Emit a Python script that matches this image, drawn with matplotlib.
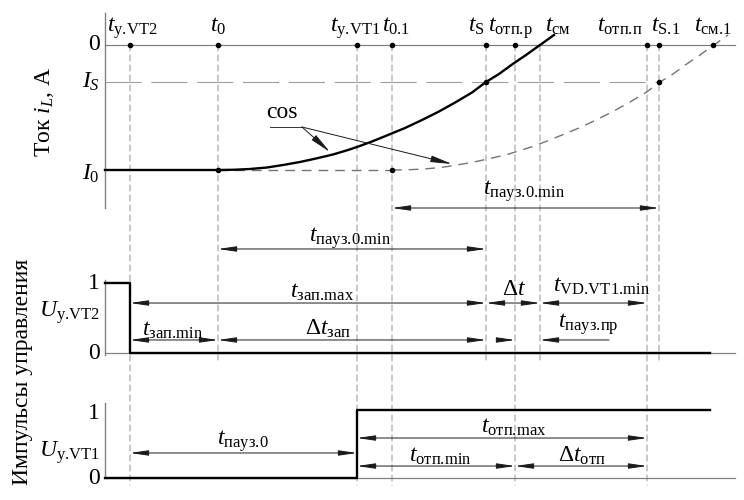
import matplotlib
matplotlib.use("Agg")
import matplotlib.pyplot as plt
from matplotlib.patches import ConnectionPatch

plt.rcParams["font.family"] = ["Liberation Serif", "DejaVu Serif"]
plt.rcParams["mathtext.fontset"] = "custom"
plt.rcParams["mathtext.rm"] = "Liberation Serif"
plt.rcParams["mathtext.it"] = "Liberation Serif:italic"
plt.rcParams["mathtext.bf"] = "Liberation Serif:bold"
plt.rcParams["lines.scale_dashes"] = False

FS = 17

# event times (relative units, time axis starts at 0)
T_Y_VT2 = 25
T_0 = 113
T_Y_VT1 = 252
T_01 = 287
T_S = 381
T_OTP_R = 410
T_CM = 435
T_OTP_P = 542
T_S1 = 554
T_CM1 = 608
T_PULSE_END = 605
T_AXIS_END = 630

# "\!" cancels the extra space mathtext puts after a dot
EVENT_LABELS = [r"$t_{\mathrm{у.\!VT2}}$", r"$t_{\mathrm{0}}$", r"$t_{\mathrm{у.\!VT1}}$",
                r"$t_{\mathrm{0.1}}$", r"$t_{\mathrm{S}}$", r"$t_{\mathrm{отп.\!р}}$",
                r"$t_{\mathrm{см}}$", r"$t_{\mathrm{отп.\!п}}$", r"$t_{\mathrm{S.\!1}}$",
                r"$t_{\mathrm{см.\!1}}$"]
LABEL_X = [2, 113, 250, 277, 380, 406, 440, 538, 546, 608]
LABEL_HA = ["left", "center", "center", "left", "right", "center", "left", "right", "left", "center"]

# current levels (relative to |I0|)
I0 = -1.0
IS = -0.296

# cos-shaped current rise, offset from its start time
CURVE_DT = [0, 16, 32, 49, 65, 82, 98, 115, 130, 139, 154, 170, 187, 204, 221,
            238, 254, 268, 281, 294, 308, 322, 336]
CURVE_I = [-1.0, -0.998, -0.992, -0.98, -0.96, -0.936, -0.908, -0.876, -0.84, -0.816,
           -0.772, -0.72, -0.664, -0.60, -0.532, -0.456, -0.38, -0.296, -0.232,
           -0.156, -0.08, 0.0, 0.08]

# control pulses
VT2_T = [0, T_Y_VT2, T_Y_VT2, T_PULSE_END]
VT2_U = [1, 1, 0, 0]
VT1_T = [0, T_Y_VT1, T_Y_VT1, T_PULSE_END]
VT1_U = [0, 0, 1, 1]

LONG_LINES = [T_Y_VT2, T_Y_VT1, T_01, T_OTP_R, T_OTP_P]
SHORT_LINES = [T_0, T_S, T_CM, T_S1]
ZERO_DOTS = [T_Y_VT2, T_0, T_Y_VT1, T_01, T_S, T_OTP_R, T_OTP_P, T_S1, T_CM1]

GRID = "0.62"
VDASH = (0, (4.3, 2.9))
LDASH = (0, (26, 7))
CDASH = (0, (7, 5))

fig = plt.figure(figsize=(7.44, 5.0), dpi=100)
ax_top = fig.add_axes([0, 0.57, 1, 0.41])
ax_mid = fig.add_axes([0, 0.27, 1, 0.28])
ax_bot = fig.add_axes([0, 0.0, 1, 0.25])
ax_top.set_ylim(-1.36, 0.28)
ax_mid.set_ylim(-0.1714, 1.8286)
ax_bot.set_ylim(-0.3235, 1.5147)
for ax in (ax_top, ax_mid, ax_bot):
    ax.set_xlim(-105, 639)
    ax.axis("off")


def dim(ax, a, b, y, style="<|-|>"):
    ax.annotate("", xy=(b, y), xytext=(a, y),
                arrowprops=dict(arrowstyle=f"{style},head_length=1.1,head_width=0.16",
                                mutation_scale=10, color="0.1", lw=0.7,
                                shrinkA=0, shrinkB=0))


def lab(ax, x, y, s):
    ax.text(x, y, s, ha="center", va="baseline", fontsize=FS)


# vertical event lines across panels
for t in LONG_LINES:
    fig.add_artist(ConnectionPatch(xyA=(t, 0), coordsA=ax_top.transData,
                                   xyB=(t, -0.103), coordsB=ax_bot.transData,
                                   color=GRID, lw=0.8, linestyle=VDASH, zorder=-1))
for t in SHORT_LINES:
    fig.add_artist(ConnectionPatch(xyA=(t, 0), coordsA=ax_top.transData,
                                   xyB=(t, -0.1), coordsB=ax_mid.transData,
                                   color=GRID, lw=0.8, linestyle=VDASH, zorder=-1))

# ---- current panel
ax_top.plot([0, 0], [0.256, -1.304], color="0.5", lw=1.0)
ax_top.plot([0, T_AXIS_END], [0, 0], color="0.5", lw=0.9)
ax_top.plot([0, T_S1], [IS, IS], color=GRID, lw=0.8, ls=LDASH)
ax_top.plot([T_0, T_01], [I0, I0], color="0.45", lw=1.0, ls=CDASH)
ax_top.plot([T_01 + d for d in CURVE_DT], CURVE_I, color="0.45", lw=1.0, ls=CDASH)
ax_top.plot([0] + [T_0 + d for d in CURVE_DT], [I0] + CURVE_I, color="black", lw=1.7)
ax_top.plot(ZERO_DOTS, [0] * len(ZERO_DOTS), "o", color="black", ms=3)
ax_top.plot([T_0, T_01, T_S, T_S1], [I0, I0, IS, IS], "o", color="black", ms=3)

for x, s, ha in zip(LABEL_X, EVENT_LABELS, LABEL_HA):
    ax_top.text(x, 0.104, s, ha=ha, va="baseline", fontsize=FS)

ax_top.text(-5, 0, "0", ha="right", va="center", fontsize=FS)
ax_top.text(-5, -0.344, r"$I_S$", ha="right", va="baseline", fontsize=FS)
ax_top.text(-5, -1.08, r"$I_{\mathrm{0}}$", ha="right", va="baseline", fontsize=FS)

# cos leader
ax_top.text(177, -0.544, "cos", ha="center", va="center", fontsize=FS)
ax_top.plot([165, 197], [-0.656, -0.656], color="0.2", lw=0.7)
for tip in [(225, -0.856), (347, -0.952)]:
    ax_top.annotate("", xy=tip, xytext=(197, -0.656),
                    arrowprops=dict(arrowstyle="-|>,head_length=1.3,head_width=0.2",
                                    mutation_scale=10, color="0.1", lw=0.7,
                                    shrinkA=0, shrinkB=0))

dim(ax_top, T_01, T_S1, -1.304)
lab(ax_top, 419, -1.2, r"$t_{\mathrm{пауз.\!0.\!min}}$")

# ---- VT2 control panel
ax_mid.plot([0, 0], [1.043, -0.03], color="0.5", lw=1.0)
ax_mid.plot([0, T_AXIS_END], [0, 0], color="0.5", lw=0.9)
ax_mid.plot(VT2_T, VT2_U, color="black", lw=1.7)
ax_mid.text(-5, 1, "1", ha="right", va="center", fontsize=FS)
ax_mid.text(-5, 0, "0", ha="right", va="center", fontsize=FS)
ax_mid.text(-5, 0.514, r"$U_{\mathrm{у.\!VT2}}$", ha="right", va="baseline", fontsize=FS)

dim(ax_mid, T_0, T_S, 1.486)
lab(ax_mid, 245, 1.586, r"$t_{\mathrm{пауз.\!0.\!min}}$")
dim(ax_mid, T_Y_VT2, T_S, 0.714)
lab(ax_mid, 217, 0.786, r"$t_{\mathrm{зап.\!max}}$")
dim(ax_mid, T_S, T_CM, 0.714)
lab(ax_mid, 409, 0.83, r"Δ$t$")
dim(ax_mid, T_CM, T_OTP_P, 0.714)
lab(ax_mid, 497, 0.87, r"$t_{\mathrm{VD.\!VT1.\!min}}$")
dim(ax_mid, T_Y_VT2, T_0, 0.186)
lab(ax_mid, 68, 0.243, r"$t_{\mathrm{зап.\!min}}$")
dim(ax_mid, T_0, T_S, 0.186)
lab(ax_mid, 223, 0.257, r"Δ$t_{\mathrm{зап}}$")
dim(ax_mid, T_OTP_R - 17, T_OTP_R, 0.186, style="-|>")
dim(ax_mid, T_CM + 69, T_CM, 0.186, style="-|>")
lab(ax_mid, 483, 0.357, r"$t_{\mathrm{пауз.\!пр}}$")

# ---- VT1 control panel
ax_bot.plot([0, 0], [1.1, 0], color="0.5", lw=1.0)
ax_bot.plot([0, T_AXIS_END], [0, 0], color="0.5", lw=0.9)
ax_bot.plot(VT1_T, VT1_U, color="black", lw=1.7)
ax_bot.text(-5, 0.95, "1", ha="right", va="center", fontsize=FS)
ax_bot.text(-5, 0, "0", ha="right", va="center", fontsize=FS)
ax_bot.text(-5, 0.309, r"$U_{\mathrm{у.\!VT1}}$", ha="right", va="baseline", fontsize=FS)

dim(ax_bot, T_Y_VT2, T_Y_VT1, 0.368)
lab(ax_bot, 138, 0.485, r"$t_{\mathrm{пауз.\!0}}$")
dim(ax_bot, T_Y_VT1, T_OTP_P, 0.588)
lab(ax_bot, 409, 0.662, r"$t_{\mathrm{отп.\!max}}$")
dim(ax_bot, T_Y_VT1, T_OTP_R, 0.176)
lab(ax_bot, 335, 0.235, r"$t_{\mathrm{отп.\!min}}$")
dim(ax_bot, T_OTP_R, T_OTP_P, 0.176)
lab(ax_bot, 477, 0.235, r"Δ$t_{\mathrm{отп}}$")

# axis titles
fig.text(45 / 744, 1 - 112 / 500, r"Ток $i_L$, А", rotation=90,
         ha="center", va="center", fontsize=FS)
fig.text(23 / 744, 1 - 372 / 500, "Импульсы управления", rotation=90,
         ha="center", va="center", fontsize=FS)

fig.savefig("out.png", dpi=100)
